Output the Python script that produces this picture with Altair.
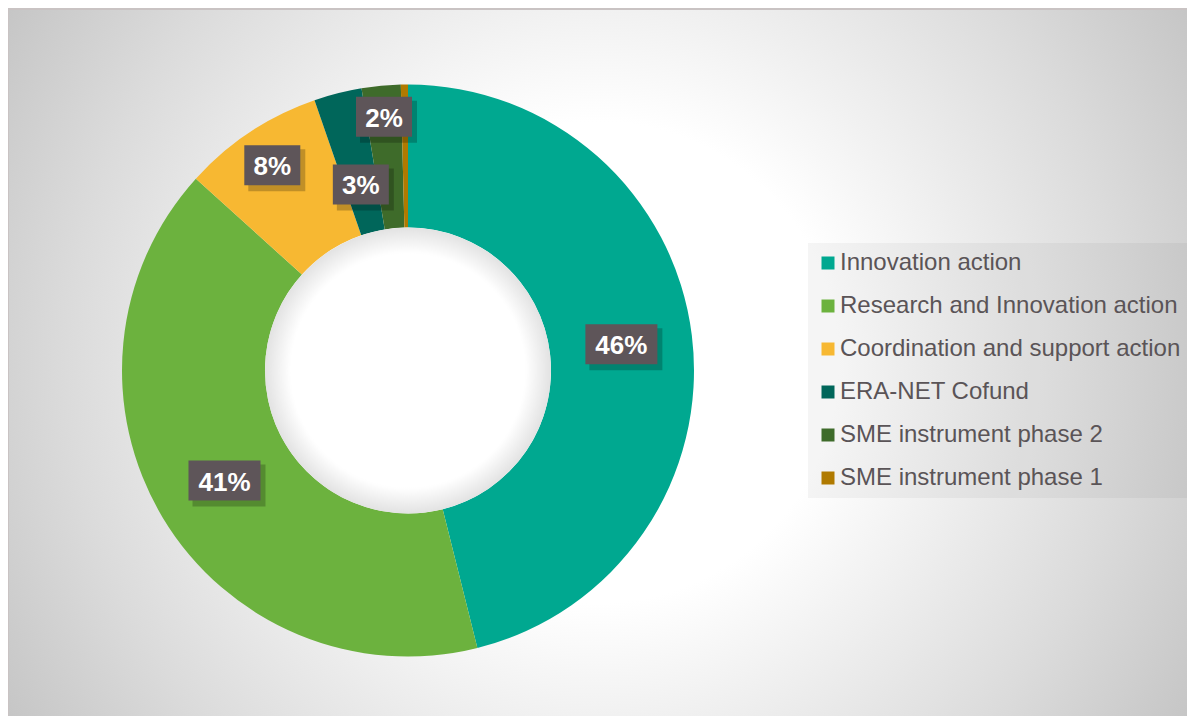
import altair as alt
import pandas as pd

# ---- data ----
categories = [
    "Innovation action",
    "Research and Innovation action",
    "Coordination and support action",
    "ERA-NET Cofund",
    "SME instrument phase 2",
    "SME instrument phase 1",
]
shares = [46.1, 40.6, 8.0, 2.7, 2.2, 0.4]
colors = ["#00A890", "#6CB23E", "#F7B832", "#00665A", "#3E6B2A", "#B07A00"]
# layout: label distance from the donut centre (Excel nudged the small ones)
label_radius = [215, 214, 246, 192, 255, 0]

# ---- layout constants ----
W, H = 1179, 708
CX, CY = 400, 362.5
R_OUT, R_IN = 286, 143

df = pd.DataFrame({
    "category": categories,
    "share": shares,
    "order": list(range(len(categories))),
    "label_r": label_radius,
})

one = pd.DataFrame({"a": [0]})

bg = alt.Chart(one).mark_rect(
    fill=alt.Gradient(
        gradient="radial",
        stops=[
            alt.GradientStop(color="#ffffff", offset=0),
            alt.GradientStop(color="#ffffff", offset=0.34),
            alt.GradientStop(color="#dbdbdb", offset=0.75),
            alt.GradientStop(color="#c3c3c3", offset=1),
        ],
        x1=0.5, y1=0.5, r1=0, x2=0.5, y2=0.5, r2=0.6,
    )
).encode(x=alt.value(0), x2=alt.value(W), y=alt.value(1), y2=alt.value(H))

top_border = alt.Chart(one).mark_rule(color="#c9c3c3", strokeWidth=2).encode(
    x=alt.value(0), x2=alt.value(W), y=alt.value(1)
)
left_border = alt.Chart(one).mark_rule(color="#c9c3c3", strokeWidth=2).encode(
    x=alt.value(0), y=alt.value(1), y2=alt.value(H)
)

arcs = alt.Chart(df).mark_arc(outerRadius=R_OUT, innerRadius=R_IN).encode(
    theta=alt.Theta("share:Q", stack=True),
    order=alt.Order("order:Q"),
    color=alt.Color(
        "category:N",
        sort=categories,
        scale=alt.Scale(domain=categories, range=colors),
        legend=alt.Legend(
            title=None,
            orient="none",
            legendX=800,
            legendY=235,
            symbolType="square",
            symbolSize=169,
            symbolStrokeWidth=0,
            symbolOpacity=1,
            labelFontSize=24,
            labelFont="Liberation Sans",
            labelColor="#5a5457",
            labelLimit=600,
            labelOffset=0,
            rowPadding=19,
            padding=8,
            fillColor="rgba(0,0,0,0.04)",
        ),
    ),
    x=alt.value(CX),
    y=alt.value(CY),
)

hole = alt.Chart(one).mark_arc(
    outerRadius=R_IN, innerRadius=0, theta=0, theta2=6.2832,
    fill=alt.Gradient(
        gradient="radial",
        stops=[
            alt.GradientStop(color="#ffffff", offset=0),
            alt.GradientStop(color="#ffffff", offset=0.82),
            alt.GradientStop(color="#e2e2e2", offset=1),
        ],
        x1=0.5, y1=0.5, r1=0, x2=0.5, y2=0.5, r2=0.5,
    ),
).encode(x=alt.value(CX), y=alt.value(CY))

lab = alt.Chart(df).transform_joinaggregate(
    total="sum(share)"
).transform_window(
    cum="sum(share)", sort=[alt.SortField("order")], frame=[None, 0]
).transform_filter(
    "datum.share >= 1"
).transform_calculate(
    mid="(datum.cum - datum.share/2) / datum.total * 2 * PI",
    lx=f"{CX} + datum.label_r * sin(datum.mid)",
    ly=f"{CY} - datum.label_r * cos(datum.mid)",
    label="format(datum.share/100, '.0%')",
    hw="(16*length(datum.label) + 24) / 2",
).transform_calculate(
    bx1="datum.lx - datum.hw",
    bx2="datum.lx + datum.hw",
    by1="datum.ly - 20",
    by2="datum.ly + 20",
    sx1="datum.lx - datum.hw + 4",
    sx2="datum.lx + datum.hw + 5",
    sy1="datum.ly - 16",
    sy2="datum.ly + 26",
)

shadow = lab.mark_rect(color="#000000", opacity=0.22).encode(
    x=alt.X("sx1:Q", scale=None, axis=None),
    x2="sx2:Q",
    y=alt.Y("sy1:Q", scale=None, axis=None),
    y2="sy2:Q",
)

boxes = lab.mark_rect(color="#5e5559").encode(
    x=alt.X("bx1:Q", scale=None, axis=None),
    x2="bx2:Q",
    y=alt.Y("by1:Q", scale=None, axis=None),
    y2="by2:Q",
)

texts = lab.mark_text(
    font="Liberation Sans", fontSize=26, fontWeight="bold", color="#ffffff",
    align="center", baseline="middle", dy=2,
).encode(
    x=alt.X("lx:Q", scale=None, axis=None),
    y=alt.Y("ly:Q", scale=None, axis=None),
    text="label:N",
)

chart = alt.layer(
    bg, top_border, left_border, arcs, hole, shadow, boxes, texts
).resolve_scale(color="independent").properties(
    width=W, height=H, autosize=alt.AutoSizeParams(type="none"), padding=0
).configure_view(stroke=None)

chart.save("out.html", embed_options={"renderer": "svg", "actions": False})
